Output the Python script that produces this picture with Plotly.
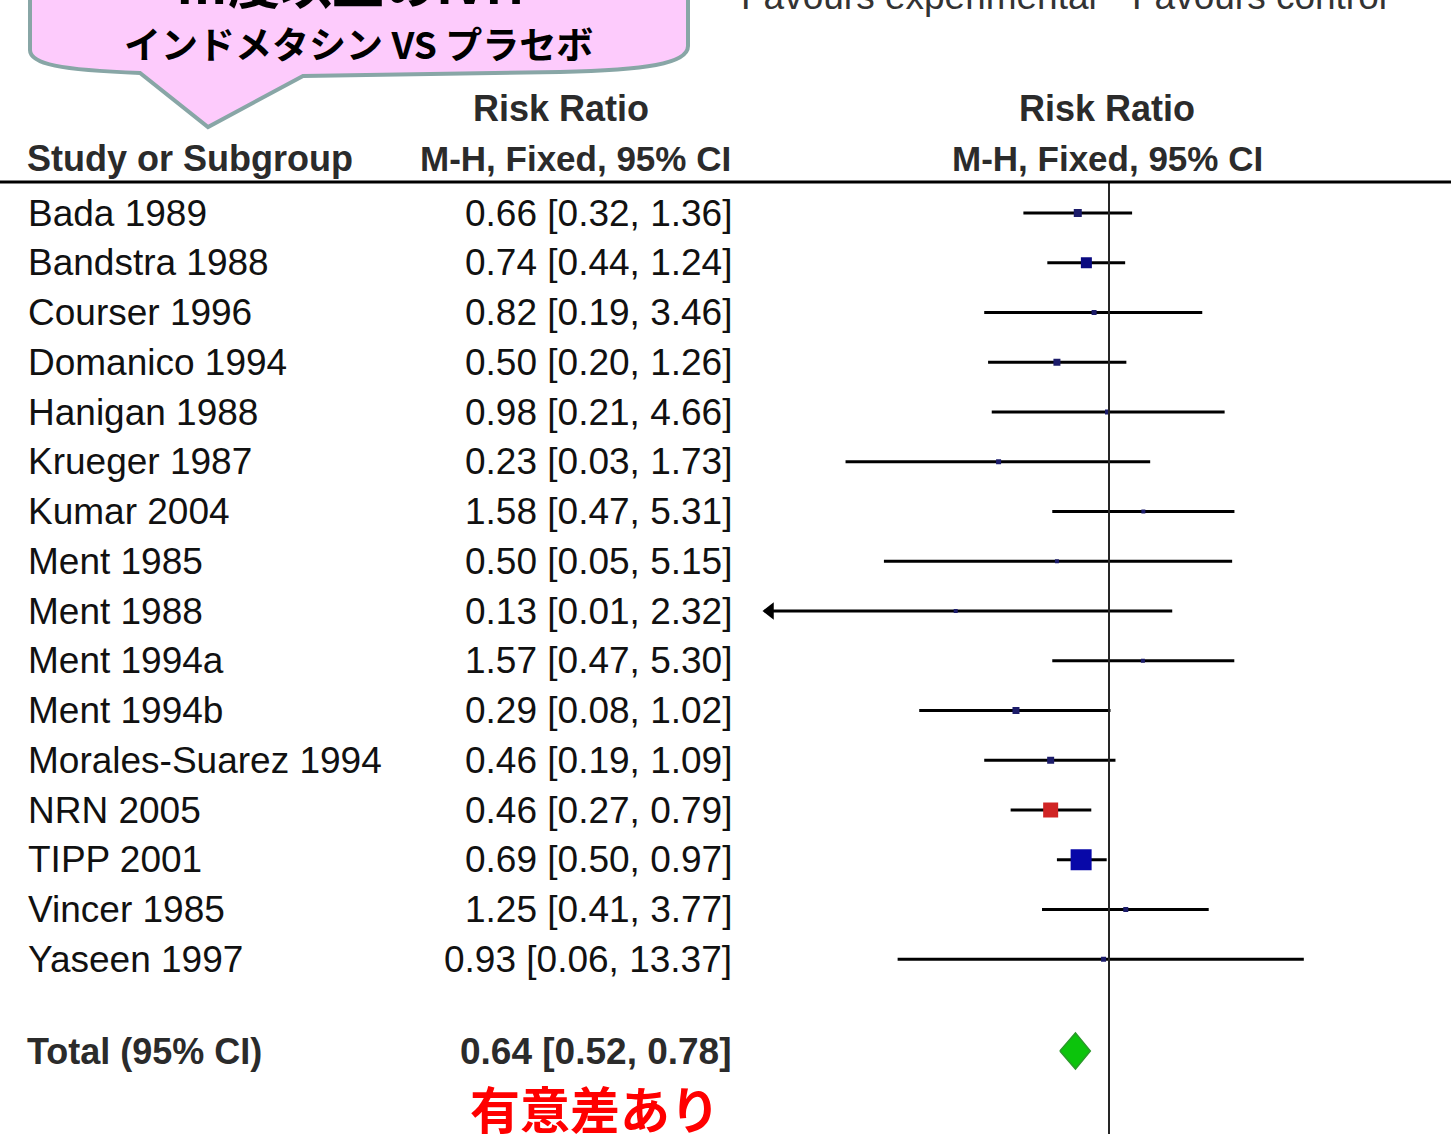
import plotly.graph_objects as go

# ---- data -------------------------------------------------------------
studies = ["Bada 1989", "Bandstra 1988", "Courser 1996", "Domanico 1994",
           "Hanigan 1988", "Krueger 1987", "Kumar 2004", "Ment 1985",
           "Ment 1988", "Ment 1994a", "Ment 1994b", "Morales-Suarez 1994",
           "NRN 2005", "TIPP 2001", "Vincer 1985", "Yaseen 1997"]
rr = [0.66, 0.74, 0.82, 0.50, 0.98, 0.23, 1.58, 0.50,
      0.13, 1.57, 0.29, 0.46, 0.46, 0.69, 1.25, 0.93]
ci_lo = [0.32, 0.44, 0.19, 0.20, 0.21, 0.03, 0.47, 0.05,
         0.01, 0.47, 0.08, 0.19, 0.27, 0.50, 0.41, 0.06]
ci_hi = [1.36, 1.24, 3.46, 1.26, 4.66, 1.73, 5.31, 5.15,
         2.32, 5.30, 1.02, 1.09, 0.79, 0.97, 3.77, 13.37]
total_label = "Total (95% CI)"
total_rr, total_lo, total_hi = 0.64, 0.52, 0.78

# ---- styling ----------------------------------------------------------
box_px = [8, 11, 5, 7, 5, 5, 4, 4, 4, 4, 7, 7, 15, 21, 5, 5]
box_col = ["#1c1c6a", "#0a0a80", "#1c1c6a", "#1c1c6a", "#1c1c6a", "#1c1c6a",
           "#1c1c6a", "#1c1c6a", "#1c1c6a", "#1c1c6a", "#1c1c6a", "#1c1c6a",
           "#d02424", "#0808a8", "#1c1c6a", "#1c1c6a"]

W, H = 1451, 1134
ROW0_PX, ROW_PX = 213, 49.75          # pixel centre of first row, row pitch
AXIS_MIN, AXIS_PX_LEFT, PX_PER_DEC = 0.01, 763, 173
X_LOG_MAX = -2 + (W - AXIS_PX_LEFT) / PX_PER_DEC

TXT = "Liberation Sans, Arial, sans-serif"
JP = "Noto Sans CJK JP, sans-serif"


def px(x):
    return x / W


def py(y):
    return 1 - y / H


def row_of_px(y):
    return (y - ROW0_PX) / ROW_PX


rows = list(range(len(studies)))
total_row = row_of_px(1051)

fig = go.Figure()

# confidence interval whiskers
lx, ly = [], []
for r, lo, hi in zip(rows, ci_lo, ci_hi):
    lx += [max(lo, AXIS_MIN * 1.02), hi, None]
    ly += [r, r, None]
fig.add_trace(go.Scatter(x=lx, y=ly, mode="lines",
                         line=dict(color="black", width=3),
                         hoverinfo="skip", showlegend=False))

# arrow heads for intervals running off the left edge
ax_, ay_ = [], []
for r, lo in zip(rows, ci_lo):
    if lo <= AXIS_MIN:
        ax_.append(AXIS_MIN * 10 ** (7 / PX_PER_DEC))
        ay_.append(r)
fig.add_trace(go.Scatter(x=ax_, y=ay_, mode="markers",
                         marker=dict(symbol="triangle-left", size=15, color="black",
                                     opacity=1),
                         hoverinfo="skip", showlegend=False, cliponaxis=False))

# point estimates
fig.add_trace(go.Scatter(x=rr, y=rows, mode="markers",
                         marker=dict(symbol="square", size=box_px, color=box_col,
                                     opacity=1, line=dict(width=0)),
                         text=studies, hoverinfo="text+x", showlegend=False))

# pooled estimate diamond
dh = 18 / ROW_PX
fig.add_trace(go.Scatter(
    x=[total_lo, total_rr, total_hi, total_rr, total_lo],
    y=[total_row, total_row - dh, total_row, total_row + dh, total_row],
    mode="lines", fill="toself", fillcolor="#0cc40c",
    line=dict(color="#2a9a2a", width=1.5),
    hoverinfo="skip", showlegend=False))

fig.update_layout(
    width=W, height=H,
    margin=dict(l=0, r=0, t=0, b=0),
    paper_bgcolor="white", plot_bgcolor="white",
    xaxis=dict(type="log", range=[-2, X_LOG_MAX],
               domain=[px(AXIS_PX_LEFT), 1],
               showgrid=False, zeroline=False, showticklabels=False,
               ticks="", showline=False),
    yaxis=dict(range=[row_of_px(H), row_of_px(0)],
               showgrid=False, zeroline=False, showticklabels=False,
               ticks="", showline=False),
    showlegend=False,
)

# line of no effect and header rule
fig.add_shape(type="line", xref="x", yref="paper", x0=1, x1=1,
              y0=0, y1=py(183), line=dict(color="#262626", width=2))
fig.add_shape(type="line", xref="paper", yref="paper", x0=0, x1=1,
              y0=py(182), y1=py(182), line=dict(color="black", width=3))

# callout bubble
bubble = ("M {a} L {b} C {c} {d} {e} L {f} L {g} L {h} C {i} {j} {k} L {l} Z").format(
    a=f"{px(30)},{py(-40)}", b=f"{px(30)},{py(50)}",
    c=f"{px(30)},{py(64)}", d=f"{px(60)},{py(70)}", e=f"{px(140)},{py(73)}",
    f=f"{px(208)},{py(127)}", g=f"{px(303)},{py(76)}", h=f"{px(560)},{py(72)}",
    i=f"{px(645)},{py(70)}", j=f"{px(688)},{py(64)}", k=f"{px(688)},{py(46)}",
    l=f"{px(688)},{py(-40)}")
fig.add_shape(type="path", xref="paper", yref="paper", path=bubble,
              fillcolor="#fdcbfc", line=dict(color="#88a6a6", width=4))


def note(text, x, y, size, anchor="left", color="black", bold=False, family=TXT,
         yref="y"):
    if bold:
        text = f"<b>{text}</b>"
    fig.add_annotation(text=text, x=x, y=y, xref="paper", yref=yref,
                       xanchor=anchor, yanchor="middle", showarrow=False,
                       font=dict(family=family, size=size, color=color))


# bubble text
note("Ⅲ度以上のIVH", px(350), py(-19), 52, "center", "black", True, JP, "paper")
note("インドメタシン VS プラセボ", px(358), py(43), 37, "center", "black", True, JP, "paper")

# favours labels
note("Favours experimental", px(739), py(-4), 37, "left", "#333333", False, TXT, "paper")
note("Favours control", px(1130), py(-4), 37, "left", "#333333", False, TXT, "paper")

# column headers
hdr = "#2b2b2b"
note("Risk Ratio", px(561), row_of_px(108), 36, "center", hdr, True)
note("M-H, Fixed, 95% CI", px(733), row_of_px(158), 35, "right", hdr, True)
note("Risk Ratio", px(1107), row_of_px(108), 36, "center", hdr, True)
note("M-H, Fixed, 95% CI", px(1107), row_of_px(158), 35, "center", hdr, True)
note("Study or Subgroup", px(25), row_of_px(158), 36, "left", hdr, True)

# study rows
for r, name, e, lo, hi in zip(rows, studies, rr, ci_lo, ci_hi):
    note(name, px(26), r, 37, "left", "#111111")
    note(f"{e:.2f} [{lo:.2f}, {hi:.2f}]", px(734), r, 37, "right", "#111111")

# pooled row
note(total_label, px(25), total_row, 36, "left", hdr, True)
note(f"{total_rr:.2f} [{total_lo:.2f}, {total_hi:.2f}]", px(734), total_row, 37,
     "right", hdr, True)

note("有意差あり", px(595), row_of_px(1107), 50, "center", "#ff0000", True, JP)

fig.write_html("out.html", config={"displayModeBar": False})
